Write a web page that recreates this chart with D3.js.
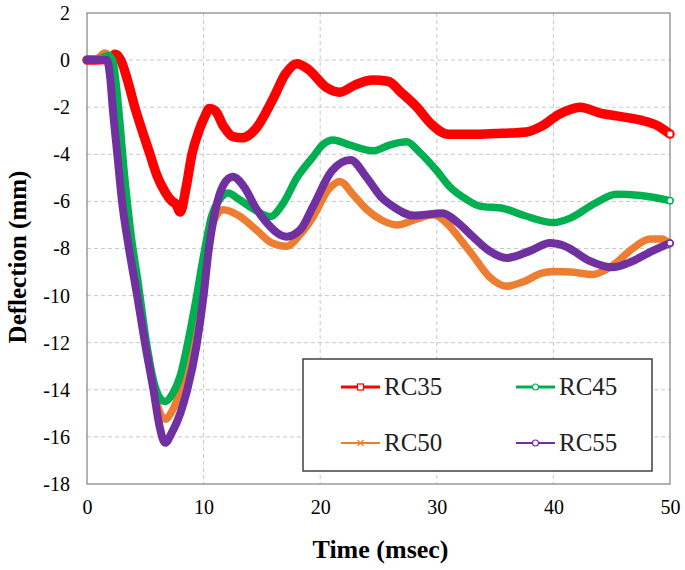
<!DOCTYPE html>
<html><head><meta charset="utf-8">
<script src="https://cdn.jsdelivr.net/npm/d3@7"></script>
<style>body{margin:0;background:#fff;} svg{display:block;} text{font-family:"Liberation Serif","Times New Roman",serif;}</style>
</head><body><svg id="c" width="685" height="570"></svg>
<script>
const seriesNames = ["RC35", "RC45", "RC50", "RC55"];
const seriesColors = ["#FF0000", "#00B050", "#ED7D31", "#7030A0"];
const xTicks = [0, 10, 20, 30, 40, 50];
const yTicks = [2, 0, -2, -4, -6, -8, -10, -12, -14, -16, -18];

const rc35 = [[0,0],[2.0,0.05],[2.4,0.25],[2.9,0],[3.5,-0.9],[4.1,-2.0],[4.8,-3.1],[5.4,-4.0],[6.0,-4.9],[6.7,-5.6],[7.3,-6.0],[7.6,-6.1],[8.0,-6.45],[8.5,-5.4],[9.0,-4.0],[9.6,-3.0],[10.1,-2.4],[10.5,-2.05],[11,-2.15],[11.7,-2.8],[12.5,-3.25],[13.3,-3.3],[14.5,-2.9],[16,-1.6],[17,-0.6],[18,-0.15],[19,-0.4],[20.5,-1.15],[21.7,-1.36],[23,-1.05],[24.5,-0.85],[25.8,-0.9],[27,-1.4],[28.3,-2.0],[29.5,-2.7],[31,-3.15],[33,-3.15],[35,-3.12],[37.7,-3.05],[39,-2.8],[40.5,-2.3],[42.3,-2.0],[44,-2.25],[45.4,-2.37],[47.4,-2.54],[49,-2.8],[50,-3.14]];
const rc45 = [[0,0],[1.3,0.1],[1.8,0.2],[2.2,0],[2.7,-2.0],[3.2,-4.8],[3.8,-7.5],[4.4,-9.5],[5.1,-12],[5.7,-13.6],[6.2,-14.3],[6.7,-14.5],[7.3,-14.2],[8.0,-13.4],[8.6,-12.1],[9.3,-10.3],[10.0,-8.3],[10.7,-6.6],[11.4,-5.9],[12.1,-5.64],[13,-5.9],[14.2,-6.3],[15.7,-6.65],[16.8,-6.1],[18,-5.0],[19.4,-4.1],[20.2,-3.6],[21.1,-3.39],[22.5,-3.6],[24.5,-3.85],[26,-3.6],[27.4,-3.47],[28.5,-3.9],[30,-4.7],[31.1,-5.37],[32.5,-5.9],[33.7,-6.2],[35.7,-6.3],[37.5,-6.6],[40,-6.9],[41.5,-6.7],[43.5,-6.1],[45.4,-5.7],[47.5,-5.75],[50,-5.97]];
const rc50 = [[0,0],[1.0,0.1],[1.5,0.3],[2.0,0.1],[2.5,-2.0],[3.0,-4.5],[3.6,-7.5],[4.3,-9.8],[5.0,-12.0],[5.7,-13.9],[6.2,-14.9],[6.7,-15.25],[7.3,-14.9],[8.0,-14.0],[8.7,-12.4],[9.4,-10.4],[10.1,-8.4],[10.8,-6.9],[11.7,-6.35],[13,-6.6],[14.5,-7.2],[15.8,-7.75],[17.1,-7.9],[18.3,-7.4],[19.4,-6.65],[20.7,-5.5],[21.7,-5.15],[22.8,-5.7],[24,-6.35],[25.3,-6.8],[26.6,-7.0],[28,-6.8],[29.7,-6.57],[31,-7.0],[32,-7.6],[33.1,-8.3],[34.5,-9.2],[36,-9.6],[37.5,-9.4],[39,-9.05],[40,-8.98],[41.5,-9.0],[43.4,-9.1],[44.5,-8.9],[45.4,-8.6],[46.8,-8.0],[48.3,-7.6],[49.3,-7.6],[50,-7.8]];
const rc55 = [[0,0],[1.7,0],[2.0,-0.8],[2.2,-2],[2.6,-4],[3.0,-6],[3.6,-8],[4.3,-10],[5.0,-12.1],[5.7,-14],[6.2,-15.5],[6.7,-16.25],[7.3,-15.8],[8.0,-15.0],[8.6,-14],[9.4,-12.1],[10.0,-10],[10.4,-8.2],[11.0,-6.4],[11.7,-5.3],[12.5,-4.95],[13.5,-5.4],[14.5,-6.3],[15.4,-6.9],[17.1,-7.5],[18.3,-7.2],[19.4,-6.2],[21,-4.7],[22.6,-4.24],[24,-5.0],[25.2,-5.8],[26.2,-6.2],[28,-6.6],[30.5,-6.5],[31.8,-6.9],[33.1,-7.5],[34.5,-8.1],[36,-8.4],[38,-8.1],[39.7,-7.77],[41,-7.9],[43,-8.5],[45.1,-8.8],[46.5,-8.6],[48.5,-8.1],[50,-7.77]];
const seriesData = [rc35, rc45, rc50, rc55];

const svg = d3.select("#c");
const L = 87, R = 670, T = 13, B = 484;
const x = d3.scaleLinear().domain([0, 50]).range([L, R]);
const y = d3.scaleLinear().domain([-18, 2]).range([B, T]);
const serif = '"Liberation Serif","Times New Roman",serif';

// grid
svg.append("g").selectAll("line").data(yTicks.filter(v => v !== 2 && v !== -18)).join("line")
  .attr("x1", L).attr("x2", R).attr("y1", d => y(d)).attr("y2", d => y(d))
  .attr("stroke", "#c8c8c8").attr("stroke-width", 1).attr("stroke-dasharray", "4,3");
svg.append("g").selectAll("line").data(xTicks.filter(v => v !== 0 && v !== 50)).join("line")
  .attr("x1", d => x(d)).attr("x2", d => x(d)).attr("y1", T).attr("y2", B)
  .attr("stroke", "#c8c8c8").attr("stroke-width", 1).attr("stroke-dasharray", "4,3");

// plot border
svg.append("rect").attr("x", L).attr("y", T).attr("width", R - L).attr("height", B - T)
  .attr("fill", "none").attr("stroke", "#808080").attr("stroke-width", 1.2);

// axes (labels only)
const fmt = d => String(d);
const yAxis = d3.axisLeft(y).tickValues(yTicks).tickFormat(fmt).tickSize(0).tickPadding(17);
const gy = svg.append("g").attr("transform", `translate(${L},0)`).call(yAxis);
gy.attr("font-family", null).attr("font-size", null);
gy.select(".domain").remove();
gy.selectAll("text").style("font-family", serif).style("font-size", "20px").attr("fill", "#000");

const xAxis = d3.axisBottom(x).tickValues(xTicks).tickFormat(fmt).tickSize(0).tickPadding(16);
const gx = svg.append("g").attr("transform", `translate(0,${B})`).call(xAxis);
gx.attr("font-family", null).attr("font-size", null);
gx.select(".domain").remove();
gx.selectAll("text").style("font-family", serif).style("font-size", "20px").attr("fill", "#000");

// titles
svg.append("text").attr("x", (L + R) / 2 + 2).attr("y", 558).attr("text-anchor", "middle")
  .style("font-family", serif).attr("font-weight", "bold").style("font-size", "26px").text("Time  (msec)");
svg.append("text").attr("transform", "translate(26,257) rotate(-90)").attr("text-anchor", "middle")
  .style("font-family", serif).attr("font-weight", "bold").style("font-size", "25px").text("Deflection  (mm)");

// lines
const line = d3.line().x(d => x(d[0])).y(d => y(d[1])).curve(d3.curveMonotoneX);
const widths = [9.5, 7.5, 7.5, 8];
const order = [0, 2, 1, 3];
order.forEach(i => {
  svg.append("path").attr("d", line(seriesData[i])).attr("fill", "none")
    .attr("stroke", seriesColors[i]).attr("stroke-width", widths[i])
    .attr("stroke-linejoin", "round").attr("stroke-linecap", "round");
});

function marker(g, i, cx, cy) {
  const c = seriesColors[i];
  if (i === 0) g.append("rect").attr("x", cx - 3).attr("y", cy - 3).attr("width", 6).attr("height", 6).attr("fill", "#fff").attr("stroke", c).attr("stroke-width", 1.2);
  else if (i === 2) {
    g.append("path").attr("d", `M${cx-3},${cy-3}L${cx+3},${cy+3}M${cx-3},${cy+3}L${cx+3},${cy-3}`).attr("stroke", c).attr("stroke-width", 1.2);
  } else g.append("circle").attr("cx", cx).attr("cy", cy).attr("r", 3).attr("fill", "#fff").attr("stroke", c).attr("stroke-width", 1.2);
}
order.forEach(i => {
  const last = seriesData[i][seriesData[i].length - 1];
  marker(svg, i, x(last[0]), y(last[1]));
});

// legend
svg.append("rect").attr("x", 303).attr("y", 359).attr("width", 349).attr("height", 112)
  .attr("fill", "#fff").attr("stroke", "#404040").attr("stroke-width", 1.5);
const legPos = [[341, 387], [516, 387], [341, 443], [516, 443]];
const legW = [3, 3, 2, 2];
seriesNames.forEach((n, i) => {
  const [lx, ly] = legPos[i];
  svg.append("line").attr("x1", lx).attr("x2", lx + 39).attr("y1", ly).attr("y2", ly)
    .attr("stroke", seriesColors[i]).attr("stroke-width", legW[i]);
  marker(svg, i, lx + 19.5, ly);
  svg.append("text").attr("x", lx + 43).attr("y", ly + 8).style("font-family", serif)
    .style("font-size", "25px").attr("fill", "#222").text(n);
});
</script></body></html>
